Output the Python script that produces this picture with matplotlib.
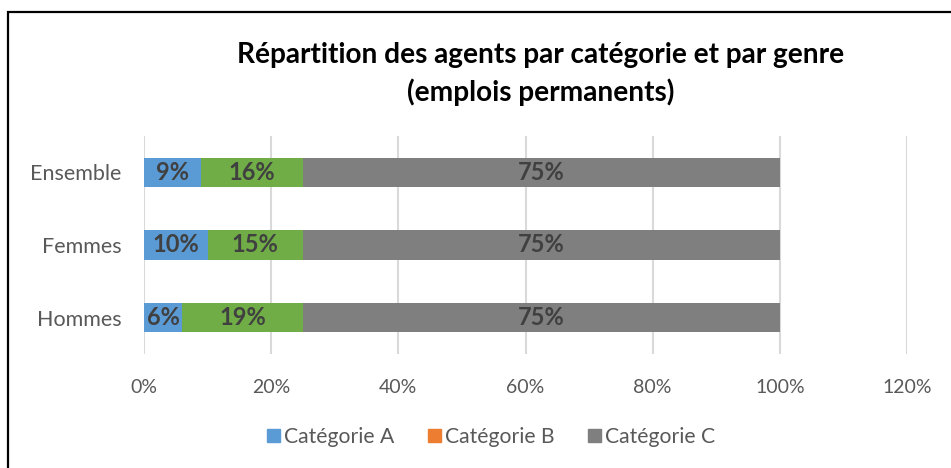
import matplotlib
matplotlib.use("Agg")
import matplotlib.pyplot as plt
from matplotlib.patches import Patch, Rectangle

categories = ["Hommes", "Femmes", "Ensemble"]
cat_a = [6, 10, 9]
cat_b = [19, 15, 16]
cat_c = [75, 75, 75]
series_names = ["Catégorie A", "Catégorie B", "Catégorie C"]
xticks = [0, 20, 40, 60, 80, 100, 120]

plt.rcParams['font.family'] = ['Lato', 'DejaVu Sans']

fig = plt.figure(figsize=(9.51, 4.68), dpi=100)
ax = fig.add_axes([144/951, 1-354/468, (907-144)/951, (354-136)/468])

blue, green, orange, gray = "#5B9BD5", "#70AD47", "#ED7D31", "#7F7F7F"
y = list(range(len(categories)))
h = 0.4
left = [0]*3
for vals, col in [(cat_a, blue), (cat_b, green), (cat_c, gray)]:
    bars = ax.barh(y, vals, left=left, height=h, color=col, zorder=3)
    for b, v in zip(bars, vals):
        ax.text(b.get_x()+b.get_width()/2, b.get_y()+b.get_height()/2, f"{v}%",
                ha="center", va="center", fontsize=17, fontweight="bold",
                color="#404040", zorder=4)
    left = [l+v for l, v in zip(left, vals)]

ax.set_xlim(0, 120)
ax.set_ylim(-0.5, 2.5)
ax.set_xticks(xticks)
ax.set_xticklabels([f"{t}%" for t in xticks])
ax.set_yticks(y)
ax.set_yticklabels(categories)
ax.tick_params(length=0, colors="#595959")
ax.tick_params(axis="x", pad=18, labelsize=14)
ax.tick_params(axis="y", pad=16, labelsize=15.5)
ax.grid(axis="x", color="#D9D9D9", linewidth=1.5, zorder=0)
for s in ax.spines.values():
    s.set_visible(False)

fig.text(541/951, 1-55/468, "Répartition des agents par catégorie et par genre",
         ha="center", va="center", fontsize=20.2, fontweight="bold", color="black")
fig.text(541/951, 1-92/468, "(emplois permanents)",
         ha="center", va="center", fontsize=20.2, fontweight="bold", color="black")

handles = [Patch(color=blue), Patch(color=orange), Patch(color=gray)]
fig.legend(handles, series_names, loc="center", bbox_to_anchor=(491/951, 1-437/468),
           ncol=3, frameon=False, fontsize=15.2, labelcolor="#595959",
           handlelength=0.6, handleheight=0.6, handletextpad=0.2, columnspacing=1.6)

fig.patches.append(Rectangle((8/951, -0.1), 1.2, 1-12/468+0.1, transform=fig.transFigure,
                             fill=False, edgecolor="black", linewidth=1.6))

fig.savefig("out.png", dpi=100)
